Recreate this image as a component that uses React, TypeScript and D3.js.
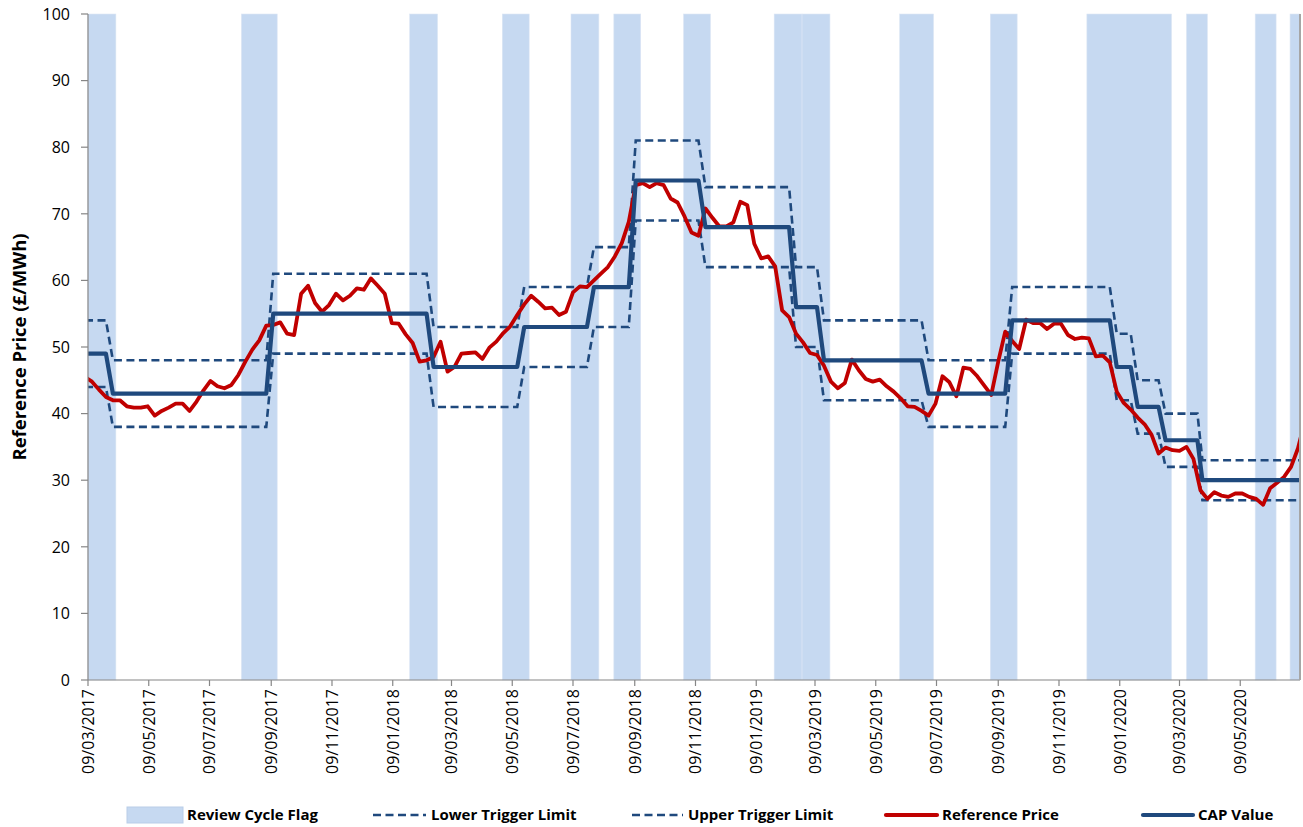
import React from "react";
import * as d3 from "d3";

// ---------- DATA ----------
// Weekly reference price observations, first observation on START_DATE, one every 7 days
const START_DATE = "2017-03-06";
const refPrice = [
  45.5, 44.8, 43.6, 42.5, 42.0, 42.0, 41.1, 40.9, 40.9, 41.1,
  39.7, 40.4, 40.9, 41.5, 41.5, 40.4, 41.8, 43.5, 44.9, 44.1,
  43.8, 44.3, 45.8, 47.8, 49.6, 51.0, 53.2, 53.3, 53.7, 52.0,
  51.8, 58.0, 59.2, 56.6, 55.3, 56.3, 58.0, 57.0, 57.7, 58.8,
  58.6, 60.3, 59.2, 58.0, 53.6, 53.5, 51.9, 50.6, 47.8, 48.0,
  48.5, 50.8, 46.3, 47.0, 49.0, 49.1, 49.2, 48.2, 49.9, 50.8,
  52.1, 53.1, 54.8, 56.4, 57.7, 56.8, 55.8, 55.9, 54.8, 55.3,
  58.2, 59.1, 59.0, 60.0, 61.0, 62.0, 63.6, 65.6, 68.8, 74.3,
  74.6, 74.0, 74.6, 74.3, 72.3, 71.7, 69.6, 67.2, 66.7, 70.8,
  69.4, 68.1, 68.1, 68.7, 71.8, 71.3, 65.5, 63.3, 63.6, 62.1,
  55.5, 54.5, 52.0, 50.7, 49.1, 48.8, 47.2, 44.8, 43.8, 44.6,
  48.1, 46.5, 45.2, 44.8, 45.1, 44.1, 43.3, 42.3, 41.1, 41.0,
  40.4, 39.7, 41.5, 45.6, 44.7, 42.6, 46.9, 46.7, 45.6, 44.2,
  42.8, 47.8, 52.3, 50.9, 49.7, 54.1, 53.6, 53.6, 52.7, 53.5,
  53.5, 51.8, 51.2, 51.4, 51.3, 48.6, 48.7, 47.7, 43.3, 41.6,
  40.6, 39.4, 38.4, 36.8, 34.0, 34.9, 34.5, 34.4, 35.0, 33.2,
  28.5, 27.2, 28.2, 27.7, 27.5, 28.0, 28.0, 27.5, 27.2, 26.3,
  28.8, 29.6, 30.5, 32.0, 34.8, 39.0,
];

// CAP periods (CAP value and trigger limits hold constant within each)
const periodStart = [
  "2017-03-06", "2017-04-03", "2017-09-11", "2018-02-19", "2018-05-21", "2018-07-30",
  "2018-09-10", "2018-11-19", "2019-02-18", "2019-03-18", "2019-07-01", "2019-09-23",
  "2020-01-06", "2020-01-27", "2020-02-24", "2020-04-01",
];
const periodEnd = [
  "2017-03-27", "2017-09-04", "2018-02-12", "2018-05-14", "2018-07-23", "2018-09-03",
  "2018-11-12", "2019-02-11", "2019-03-11", "2019-06-24", "2019-09-16", "2019-12-30",
  "2020-01-20", "2020-02-17", "2020-03-27", "2020-07-13",
];
const capValues = [49, 43, 55, 47, 53, 59, 75, 68, 56, 48, 43, 54, 47, 41, 36, 30];
const upperValues = [54, 48, 61, 53, 59, 65, 81, 74, 62, 54, 48, 59, 52, 45, 40, 33];
const lowerValues = [44, 38, 49, 41, 47, 53, 69, 62, 50, 42, 38, 49, 42, 37, 32, 27];

// Review cycle flag ranges
const flagStart = [
  "2017-03-09", "2017-08-10", "2018-01-26", "2018-04-29", "2018-07-07", "2018-08-19",
  "2018-10-28", "2019-01-27", "2019-02-24", "2019-06-02", "2019-09-01", "2019-12-07",
  "2020-03-16", "2020-05-24", "2020-06-28",
];
const flagEnd = [
  "2017-04-06", "2017-09-15", "2018-02-23", "2018-05-26", "2018-08-04", "2018-09-15",
  "2018-11-24", "2019-02-24", "2019-03-24", "2019-07-06", "2019-09-28", "2020-03-01",
  "2020-04-06", "2020-06-14", "2020-07-08",
];

const X_MIN = "2017-03-09";
const X_MAX = "2020-07-08";
const yTicks = [0, 10, 20, 30, 40, 50, 60, 70, 80, 90, 100];
const xTickLabels = [
  "09/03/2017", "09/05/2017", "09/07/2017", "09/09/2017", "09/11/2017",
  "09/01/2018", "09/03/2018", "09/05/2018", "09/07/2018", "09/09/2018", "09/11/2018",
  "09/01/2019", "09/03/2019", "09/05/2019", "09/07/2019", "09/09/2019", "09/11/2019",
  "09/01/2020", "09/03/2020", "09/05/2020",
];

const legendItems = [
  { key: "flag", label: "Review Cycle Flag" },
  { key: "lower", label: "Lower Trigger Limit" },
  { key: "upper", label: "Upper Trigger Limit" },
  { key: "ref", label: "Reference Price" },
  { key: "cap", label: "CAP Value" },
];

// ---------- STYLE ----------
const W = 1303;
const H = 827;
const M = { left: 88, right: 1300, top: 14, bottom: 680 };
const BAND = "#C6D9F1";
const BLUE = "#1F497D";
const RED = "#C00000";
const AXIS = "#868686";
const FONT = "'Open Sans', 'DejaVu Sans', sans-serif";

const parseIso = d3.utcParse("%Y-%m-%d");
const parseDmy = d3.utcParse("%d/%m/%Y");

export default function App() {
  const x = d3
    .scaleUtc()
    .domain([parseIso(X_MIN)!, parseIso(X_MAX)!])
    .range([M.left, M.right]);
  const y = d3.scaleLinear().domain([0, 100]).range([M.bottom, M.top]);

  const start = parseIso(START_DATE)!;
  const refPts: [Date, number][] = refPrice.map((v, i) => [d3.utcDay.offset(start, 7 * i), v]);

  const stepPts = (vals: number[]): [Date, number][] =>
    vals.flatMap((v, i) => [
      [parseIso(periodStart[i])!, v] as [Date, number],
      [parseIso(periodEnd[i])!, v] as [Date, number],
    ]);

  const line = d3
    .line<[Date, number]>()
    .x((d) => x(d[0]))
    .y((d) => y(d[1]));

  const legendY = 815;
  const legendLayout: Record<string, { sx: number; sw: number; tx: number }> = {
    flag: { sx: 127, sw: 56, tx: 187 },
    lower: { sx: 373, sw: 53, tx: 431 },
    upper: { sx: 632, sw: 51, tx: 688 },
    ref: { sx: 886, sw: 51, tx: 942 },
    cap: { sx: 1143, sw: 50, tx: 1198 },
  };

  return (
    <svg
      width={W}
      height={H}
      style={{ position: "absolute", left: 0, top: 0, background: "#fff" }}
      fontFamily={FONT}
    >
      <defs>
        <clipPath id="plotClip">
          <rect x={M.left} y={0} width={M.right - M.left} height={H} />
        </clipPath>
      </defs>
      <rect x={0} y={0} width={W} height={H} fill="#fff" />

      {/* review cycle flag bands */}
      <g>
        {flagStart.map((s, i) => {
          const x0 = Math.max(M.left, x(parseIso(s)!));
          const x1 = Math.min(M.right, x(parseIso(flagEnd[i])!));
          return (
            <rect
              key={i}
              x={x0}
              y={y(100)}
              width={x1 - x0}
              height={y(0) - y(100)}
              fill={BAND}
              stroke="#DCE6F4"
              strokeWidth={0.6}
            />
          );
        })}
      </g>

      {/* lines */}
      <g clipPath="url(#plotClip)" fill="none">
        <path d={line(stepPts(lowerValues))!} stroke={BLUE} strokeWidth={2.6} strokeDasharray="8 4.5" />
        <path d={line(stepPts(upperValues))!} stroke={BLUE} strokeWidth={2.6} strokeDasharray="8 4.5" />
        <path d={line(refPts)!} stroke={RED} strokeWidth={3.8} strokeLinejoin="round" />
        <path d={line(stepPts(capValues))!} stroke={BLUE} strokeWidth={4.2} strokeLinejoin="round" />
      </g>

      {/* axes */}
      <g stroke={AXIS} strokeWidth={1.2}>
        <line x1={M.left} x2={M.left} y1={M.top} y2={M.bottom} />
        <line x1={M.left} x2={M.right} y1={M.bottom} y2={M.bottom} />
        <line x1={M.right} x2={M.right} y1={M.top} y2={M.bottom} strokeWidth={2} stroke="#A6A6A6" />
        {yTicks.map((t) => (
          <line key={t} x1={M.left - 7} x2={M.left} y1={y(t)} y2={y(t)} />
        ))}
        {xTickLabels.map((l) => {
          const xx = x(parseDmy(l)!);
          return <line key={l} x1={xx} x2={xx} y1={M.bottom} y2={M.bottom + 6} />;
        })}
      </g>

      {/* y tick labels */}
      <g fontSize={16} fill="#000" textAnchor="end">
        {yTicks.map((t) => (
          <text key={t} x={70} y={y(t)} dy="0.36em">
            {t}
          </text>
        ))}
      </g>

      {/* x tick labels */}
      <g fontSize={16} fill="#000" textAnchor="end">
        {xTickLabels.map((l) => {
          const xx = x(parseDmy(l)!);
          return (
            <text key={l} transform={`translate(${xx},${M.bottom + 9}) rotate(-90)`} dy="0.36em">
              {l}
            </text>
          );
        })}
      </g>

      {/* y axis title */}
      <text
        transform={`translate(19,${(M.top + M.bottom) / 2}) rotate(-90)`}
        textAnchor="middle"
        dy="0.36em"
        fontSize={18.5}
        fontWeight="bold"
        fill="#000"
      >
        Reference Price (£/MWh)
      </text>

      {/* legend */}
      <g fontSize={15} fontWeight="bold" fill="#000">
        {legendItems.map((it) => {
          const L = legendLayout[it.key];
          let sym: React.ReactNode = null;
          if (it.key === "flag") {
            sym = <rect x={L.sx} y={legendY - 8} width={L.sw} height={16} fill={BAND} stroke="#B9CDE8" strokeWidth={1} />;
          } else if (it.key === "lower" || it.key === "upper") {
            sym = (
              <line x1={L.sx} x2={L.sx + L.sw} y1={legendY} y2={legendY} stroke={BLUE} strokeWidth={2.6} strokeDasharray="8 4.5" />
            );
          } else {
            sym = (
              <line
                x1={L.sx}
                x2={L.sx + L.sw}
                y1={legendY}
                y2={legendY}
                stroke={it.key === "ref" ? RED : BLUE}
                strokeWidth={4.2}
                strokeLinecap="round"
              />
            );
          }
          return (
            <g key={it.key}>
              {sym}
              <text x={L.tx} y={legendY} dy="0.36em">
                {it.label}
              </text>
            </g>
          );
        })}
      </g>
    </svg>
  );
}
